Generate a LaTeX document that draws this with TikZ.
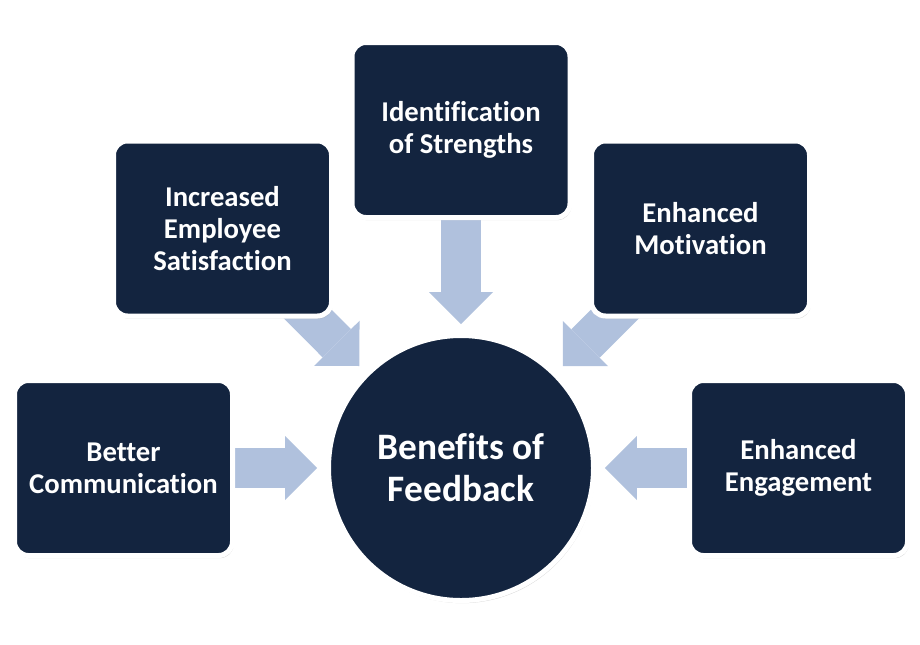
\documentclass[tikz,border=0pt]{standalone}
\usepackage{fontspec}
\setmainfont{Carlito}[Ligatures=NoCommon]
\usetikzlibrary{positioning,arrows.meta,shadows,backgrounds}
\definecolor{navy}{HTML}{13243F}
\definecolor{arrowblue}{HTML}{B0C1DD}
\tikzset{
  box/.style={draw=white, line width=3.75pt, fill=navy, rounded corners=10.5pt,
    minimum width=163.5pt, minimum height=131.25pt, inner sep=0pt, outer sep=0pt,
    align=center, text=white, font=\bfseries\fontsize{21.5}{24}\selectfont,
    drop shadow={shadow xshift=1pt, shadow yshift=-2pt, opacity=0.3}},
  hub/.style={circle, draw=white, line width=3.75pt, fill=navy,
    minimum size=198.75pt, inner sep=0pt, outer sep=0pt,
    align=center, text=white, font=\bfseries\fontsize{28}{31.5}\selectfont,
    drop shadow={shadow xshift=1pt, shadow yshift=-2pt, opacity=0.3}},
  flow/.style={draw=arrowblue, line width=30pt,
    -{Triangle[width=48pt,length=24pt,line width=0pt]}, shorten >=8.6pt}
}

\begin{document}
\begin{tikzpicture}[x=0.75pt,y=-0.75pt]
    \useasboundingbox (0,0) rectangle (920,644);
    % set up the nodes
    \node[hub] (fb) at (461,468) {Benefits of\\Feedback};
    \node[box, left=72pt of fb] (bc) {Better\\Communication};
    \node[box, right=72pt of fb] (ee) {Enhanced\\Engagement};
    \node[box, above=88.5pt of fb] (ids) {Identification\\of Strengths};
    \node[box] (ies) at (222.5,228.5) {Increased\\Employee\\Satisfaction};
    \node[box] (em) at (700.5,228.5) {Enhanced\\Motivation};
    % draw arrows between them (behind the boxes)
    \begin{scope}[on background layer]
        \draw[flow] (bc.center)--(fb);
        \draw[flow] (ies.center)--(fb);
        \draw[flow] (ids.center)--(fb);
        \draw[flow] (em.center)--(fb);
        \draw[flow] (ee.center)--(fb);
    \end{scope}
\end{tikzpicture}
\end{document}
